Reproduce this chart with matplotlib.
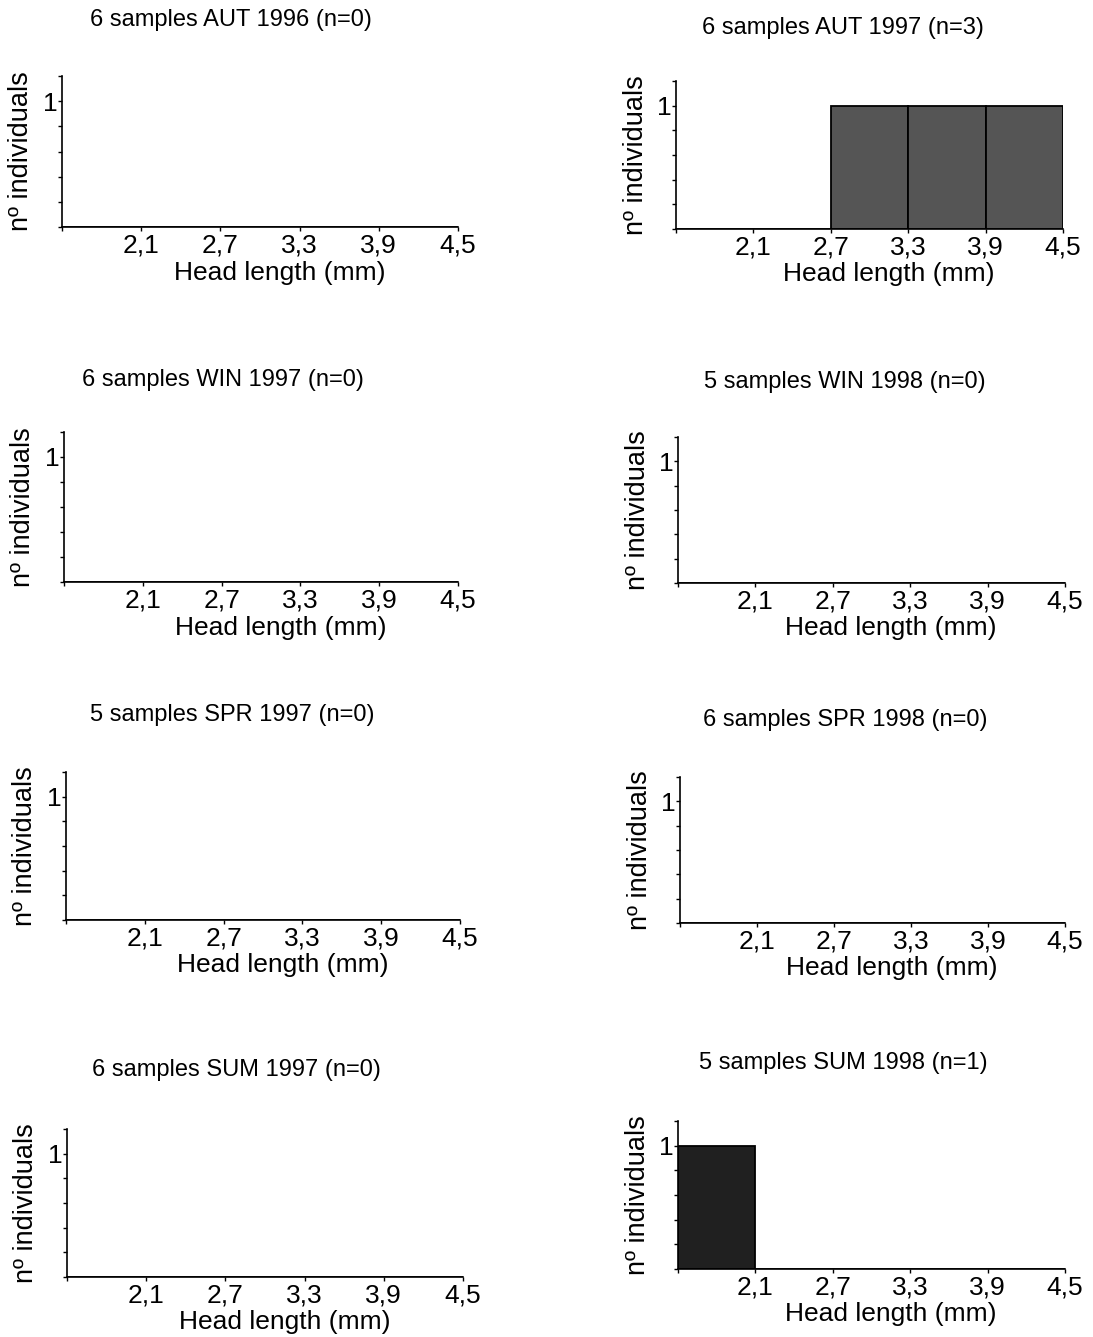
import numpy as np
import matplotlib
matplotlib.use('Agg')
import matplotlib.pyplot as plt

plt.rcParams['font.family'] = ['Liberation Sans', 'DejaVu Sans']

# head length classes (mm): bin edges and the labels printed under them
bin_edges = [1.5, 2.1, 2.7, 3.3, 3.9, 4.5]
tick_labels = ['2,1', '2,7', '3,3', '3,9', '4,5']

titles = ['6 samples AUT 1996 (n=0)', '6 samples AUT 1997 (n=3)',
          '6 samples WIN 1997 (n=0)', '5 samples WIN 1998 (n=0)',
          '5 samples SPR 1997 (n=0)', '6 samples SPR 1998 (n=0)',
          '6 samples SUM 1997 (n=0)', '5 samples SUM 1998 (n=1)']

# nº individuals per class
aut_1996 = [0, 0, 0, 0, 0]
aut_1997 = [0, 0, 1, 1, 1]
win_1997 = [0, 0, 0, 0, 0]
win_1998 = [0, 0, 0, 0, 0]
spr_1997 = [0, 0, 0, 0, 0]
spr_1998 = [0, 0, 0, 0, 0]
sum_1997 = [0, 0, 0, 0, 0]
sum_1998 = [1, 0, 0, 0, 0]
counts = [aut_1996, aut_1997, win_1997, win_1998, spr_1997, spr_1998, sum_1997, sum_1998]
bar_colors = ['#555555'] * 7 + ['#202020']

W, H = 1093, 1337
# axes boxes in pixels: left, right, top, zero line ; then title centre x, y
boxes = [(62, 458, 76, 227), (676, 1063, 81, 229),
         (64, 458, 432, 582), (678, 1065, 437, 583),
         (66, 460, 772, 920), (680, 1065, 777, 923),
         (67, 463, 1129, 1277), (678, 1065, 1121, 1269)]
title_pos = [(231, 20), (843, 28), (223, 380), (845, 382),
             (232, 715), (845, 720), (236, 1070), (843, 1063)]

fig = plt.figure(figsize=(W / 100, H / 100), dpi=100)

for i in range(8):
    x0, x1, top, zero = boxes[i]
    ax = fig.add_axes([x0 / W, 1 - zero / H, (x1 - x0) / W, (zero - top) / H])
    widths = np.diff(bin_edges)
    ax.bar(bin_edges[:-1], counts[i], width=widths, align='edge',
           color=bar_colors[i], edgecolor='black', linewidth=1.3)
    ax.set_xlim(bin_edges[0], bin_edges[-1])
    ax.set_ylim(0, 1.2)
    ax.spines['top'].set_visible(False)
    ax.spines['right'].set_visible(False)
    for s in ['left', 'bottom']:
        ax.spines[s].set_linewidth(1.2)
    ax.set_xticks(bin_edges)
    ax.set_xticklabels([''] + tick_labels, fontsize=19)
    ax.set_yticks(np.arange(0, 1.21, 0.2))
    ax.set_yticklabels(['', '', '', '', '', '1', ''], fontsize=19)
    ax.tick_params(axis='x', length=3, width=1, pad=2)
    ax.tick_params(axis='y', length=3, width=1, pad=0)
    ax.set_xlabel('Head length (mm)', fontsize=19)
    ax.xaxis.set_label_coords(0.55, -0.225)
    ax.set_ylabel('nº individuals', fontsize=19.5)
    ax.yaxis.set_label_coords(-0.07, 0.5)
    tx, ty = title_pos[i]
    fig.text(tx / W, 1 - ty / H, titles[i], fontsize=17, ha='center', va='center')

fig.savefig('out.png', dpi=100)
